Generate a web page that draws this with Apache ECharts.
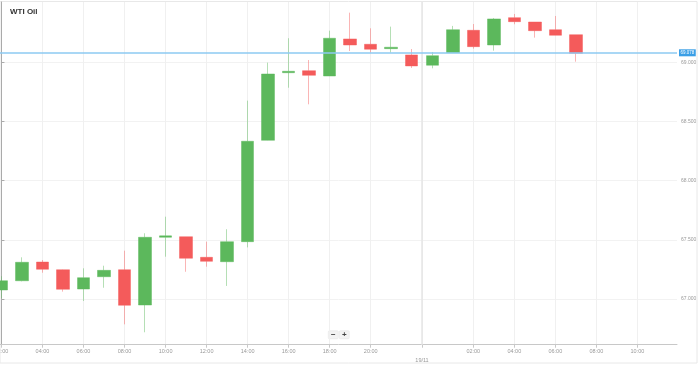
<!DOCTYPE html>
<html>
<head>
<meta charset="utf-8">
<script src="https://cdn.jsdelivr.net/npm/echarts@6/dist/echarts.min.js"></script>
<style>
html,body{margin:0;padding:0;background:#fff;}
#chart{width:699px;height:365px;}
</style>
</head>
<body>
<div id="chart"></div>
<script>
// Hourly candles (one slot per traded hour; 23:00 break is absent)
const times = ['02:00','03:00','04:00','05:00','06:00','07:00','08:00','09:00','10:00','11:00','12:00','13:00','14:00','15:00','16:00','17:00','18:00','19:00','20:00','21:00','22:00','00:00','01:00','02:00','03:00','04:00','05:00','06:00','07:00'];
const openVals  = [67.077,67.155,67.313,67.248,67.085,67.189,67.248,66.950,67.522,67.527,67.353,67.316,67.485,68.341,68.912,68.929,68.884,69.197,69.152,69.115,69.062,68.975,69.081,69.270,69.146,69.377,69.340,69.275,69.233];
const closeVals = [67.155,67.311,67.252,67.083,67.181,67.243,66.948,67.522,67.534,67.345,67.319,67.485,68.333,68.901,68.924,68.890,69.203,69.146,69.110,69.127,68.969,69.056,69.275,69.132,69.366,69.343,69.267,69.228,69.076];
const lowVals   = [67.007,67.150,67.223,67.063,66.984,67.096,66.787,66.720,67.358,67.231,67.274,67.111,67.437,68.340,68.785,68.645,68.884,69.095,69.081,69.081,68.952,68.949,69.081,69.115,69.098,69.321,69.208,69.228,69.005];
const highVals  = [67.193,67.353,67.330,67.250,67.260,67.282,67.409,67.556,67.696,67.527,67.485,67.590,68.676,68.997,69.203,69.019,69.267,69.419,69.287,69.301,69.112,69.087,69.307,69.323,69.374,69.408,69.340,69.391,69.233];
const currentPrice = 69.078;

// Axis ticks
const xTickSlots  = [0,2,4,6,8,10,12,14,16,18,20.5,23,25,27,29,31];
const xTickLabels = ['02:00','04:00','06:00','08:00','10:00','12:00','14:00','16:00','18:00','20:00','19/11','02:00','04:00','06:00','08:00','10:00'];
const dayBreakSlot = 20.5;
const yTicks = [67.0,67.5,68.0,68.5,69.0];

const candleData = times.map((t,i)=>[i, openVals[i], closeVals[i], lowVals[i], highVals[i]]);

const chart = echarts.init(document.getElementById('chart'), null, {renderer:'canvas'});
const FONT = 'Liberation Sans, Arial, sans-serif';
chart.setOption({
  animation:false,
  backgroundColor:'#fff',
  textStyle:{fontFamily:FONT},
  title:{text:'WTI Oil', left:10, top:8, padding:0, textStyle:{fontSize:8, fontWeight:'bold', color:'#333', fontFamily:FONT}},
  grid:{left:0, right:22, top:2, bottom:20.3, containLabel:false, outerBoundsMode:'none'},
  xAxis:{
    type:'value', min:-0.07, max:32.93,
    axisLine:{show:true, lineStyle:{color:'#c8c8c8', width:1}},
    axisTick:{show:true, length:3, customValues:xTickSlots, lineStyle:{color:'#c8c8c8'}},
    axisLabel:{show:true, customValues:xTickSlots, fontSize:5.5, color:'#999', margin:2, lineHeight:9, fontFamily:FONT,
      formatter:function(v){
        const k = xTickSlots.indexOf(v);
        if(k<0) return '';
        const s = xTickLabels[k];
        return v===dayBreakSlot ? '\n'+s : s;
      }},
    splitLine:{show:true, lineStyle:{color:'#f0f0f0', width:1}}
  },
  yAxis:{
    type:'value', position:'right', min:66.615, max:69.509, scale:true,
    axisLine:{show:true, lineStyle:{color:'#aaa', width:1}},
    axisTick:{show:true, length:3, customValues:yTicks, lineStyle:{color:'#aaa'}},
    axisLabel:{show:true, customValues:yTicks, fontSize:5, color:'#999', margin:4, fontFamily:FONT,
      formatter:function(v){return v.toFixed(3);}},
    splitLine:{show:true, lineStyle:{color:'#f2f2f2', width:1}}
  },
  series:[{
    type:'candlestick',
    data:candleData,
    encode:{x:0, y:[1,2,3,4]},
    barWidth:13,
    itemStyle:{
      color:'#5cb85c', color0:'#f45b5b',
      borderColor:'rgba(92,184,92,0.45)', borderColor0:'rgba(244,91,91,0.45)',
      borderWidth:1
    },
    markLine:{
      silent:true, symbol:['none','none'], animation:false,
      data:[
        {xAxis:dayBreakSlot, lineStyle:{color:'#e6e6e6', width:1.5, type:'solid'}, label:{show:false}},
        {yAxis:currentPrice, lineStyle:{color:'#8ccaf2', width:1.5, type:'solid'},
         label:{show:true, position:'end', distance:2, formatter:currentPrice.toFixed(3),
           backgroundColor:'#3b9fe6', color:'#fff', fontSize:4.5, padding:[1,1.5], fontFamily:FONT}}
      ]
    }
  }],
  graphic:[
    {type:'rect', shape:{x:0, y:1.5, width:697, height:361.5}, style:{fill:'none', stroke:'#e8e8e8', lineWidth:1}, silent:true, z:-1},
    {type:'group', left:328, top:330.5, children:[
      {type:'rect', shape:{x:0, y:0, width:10, height:8, r:1}, style:{fill:'#f3f3f3', stroke:'#e2e2e2', lineWidth:0.5}},
      {type:'text', x:5, y:4, style:{text:'−', fill:'#444', fontSize:8, fontWeight:'bold', align:'center', verticalAlign:'middle', fontFamily:FONT}},
      {type:'rect', shape:{x:11, y:0, width:10, height:8, r:1}, style:{fill:'#f3f3f3', stroke:'#e2e2e2', lineWidth:0.5}},
      {type:'text', x:16, y:4, style:{text:'+', fill:'#444', fontSize:8, fontWeight:'bold', align:'center', verticalAlign:'middle', fontFamily:FONT}}
    ]}
  ]
});
</script>
</body>
</html>
